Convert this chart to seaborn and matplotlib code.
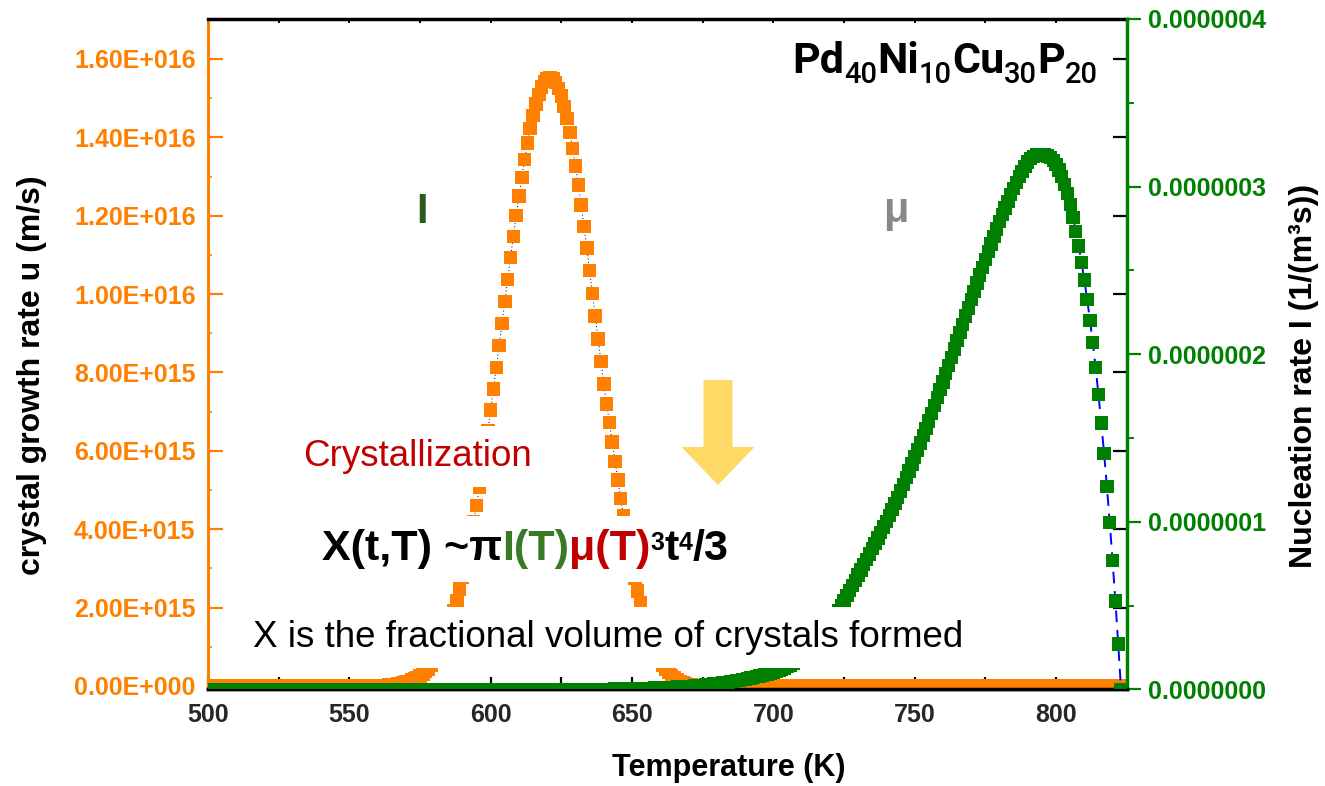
import numpy as np
import pandas as pd
import matplotlib
matplotlib.use("Agg")
import matplotlib.pyplot as plt
import seaborn as sns
from matplotlib.transforms import IdentityTransform
from matplotlib.patches import Rectangle, FancyArrow
from matplotlib.ticker import FixedLocator, FuncFormatter

# ---------------- data (1 K steps) ----------------
T_START = 500
T_END = 823

# crystal growth rate u, units of 1e15 m/s
growth_flat_low = [0.0] * 60                      # 500 - 559 K : flat at zero
growth_peak_e15 = [                                # 560 - 674 K
    0.000, 0.005, 0.010, 0.015, 0.020, 0.030, 0.040, 0.050, 0.065, 0.080,
    0.100, 0.120, 0.150, 0.180, 0.220, 0.260, 0.310, 0.370, 0.440, 0.530,
    0.630, 0.750, 0.890, 1.050, 1.230, 1.430, 1.660, 1.910, 2.180, 2.470,
    2.780, 3.090, 3.430, 3.800, 4.190, 4.610, 5.060, 5.520, 6.010, 6.520,
    7.040, 7.580, 8.130, 8.690, 9.250, 9.810, 10.37, 10.93, 11.47, 12.00,
    12.50, 12.98, 13.43, 13.85, 14.22, 14.56, 14.85, 15.09, 15.28, 15.42,
    15.50, 15.53, 15.49, 15.40, 15.25, 15.05, 14.79, 14.48, 14.12, 13.72,
    13.27, 12.79, 12.27, 11.73, 11.17, 10.60, 10.02, 9.44, 8.86, 8.28,
    7.71, 7.20, 6.72, 6.22, 5.73, 5.25, 4.79, 4.34, 3.91, 3.50,
    3.12, 2.76, 2.43, 2.12, 1.84, 1.58, 1.35, 1.14, 0.95, 0.79,
    0.65, 0.53, 0.43, 0.34, 0.27, 0.21, 0.16, 0.12, 0.09, 0.06,
    0.04, 0.025, 0.015, 0.008, 0.000,
]
growth_flat_high = [0.0] * 149                     # 675 - 823 K : flat at zero

# nucleation rate I, units of 1e-7 1/(m^3 s)
nucl_flat_low = [0.0] * 141                        # 500 - 640 K : flat at zero
nucl_curve_e7 = [                                  # 641 - 823 K
    0.001, 0.001, 0.001, 0.002, 0.002, 0.002, 0.003, 0.003, 0.003, 0.004,
    0.004, 0.005, 0.005, 0.006, 0.006, 0.007, 0.007, 0.008, 0.008, 0.009,
    0.010, 0.011, 0.011, 0.012, 0.013, 0.014, 0.015, 0.016, 0.017, 0.018,
    0.019, 0.021, 0.022, 0.024, 0.025, 0.027, 0.028, 0.030, 0.032, 0.034,
    0.036, 0.038, 0.041, 0.043, 0.046, 0.049, 0.052, 0.055, 0.058, 0.061,
    0.065, 0.068, 0.072, 0.075, 0.079, 0.083, 0.087, 0.091, 0.096, 0.100,
    0.106, 0.112, 0.119, 0.127, 0.135, 0.145, 0.155, 0.166, 0.178, 0.190,
    0.205, 0.220, 0.236, 0.253, 0.270, 0.292, 0.315, 0.340, 0.365, 0.390,
    0.417, 0.444, 0.472, 0.500, 0.530, 0.560, 0.590, 0.620, 0.651, 0.682,
    0.713, 0.744, 0.776, 0.808, 0.840, 0.871, 0.903, 0.936, 0.969, 1.003,
    1.038, 1.073, 1.109, 1.146, 1.184, 1.223, 1.263, 1.303, 1.344, 1.386,
    1.428, 1.471, 1.514, 1.558, 1.602, 1.648, 1.694, 1.741, 1.788, 1.835,
    1.884, 1.933, 1.982, 2.031, 2.080, 2.129, 2.178, 2.227, 2.276, 2.325,
    2.375, 2.425, 2.472, 2.519, 2.566, 2.612, 2.658, 2.703, 2.747, 2.790,
    2.832, 2.873, 2.913, 2.952, 2.990, 3.026, 3.060, 3.092, 3.121, 3.146,
    3.166, 3.180, 3.189, 3.192, 3.192, 3.190, 3.183, 3.172, 3.155, 3.131,
    3.100, 3.061, 3.014, 2.958, 2.892, 2.817, 2.731, 2.646, 2.548, 2.443,
    2.328, 2.202, 2.071, 1.922, 1.761, 1.590, 1.409, 1.209, 0.995, 0.768,
    0.527, 0.271, 0.000,
]

temp_major_ticks = [500, 550, 600, 650, 700, 750, 800]
temp_minor_ticks = [525, 575, 625, 675, 725, 775]
temp_top_ticks = [525, 550, 575, 600, 625, 650, 675, 700, 725, 750, 775, 800]
growth_ticks = [0.0, 2e15, 4e15, 6e15, 8e15, 1e16, 1.2e16, 1.4e16, 1.6e16]
growth_minor_ticks = [1e15, 3e15, 5e15, 7e15, 9e15, 1.1e16, 1.3e16, 1.5e16]
nucl_ticks = [0.0, 1e-7, 2e-7, 3e-7, 4e-7]
nucl_minor_ticks = [0.5e-7, 1.5e-7, 2.5e-7, 3.5e-7]

temperature = np.arange(T_START, T_END + 1)
growth = np.array(growth_flat_low + growth_peak_e15 + growth_flat_high) * 1e15
nucleation = np.array(nucl_flat_low + nucl_curve_e7) * 1e-7
df = pd.DataFrame({"T": temperature, "u": growth, "I": nucleation})

# ---------------- style ----------------
W, H = 1325, 786
ORANGE = "#FF8000"
GREEN = "#008000"
sns.set_style("white")
plt.rcParams["font.family"] = ["Liberation Sans", "DejaVu Sans"]
plt.rcParams["font.weight"] = "bold"

fig = plt.figure(figsize=(W / 100, H / 100), dpi=100)
ax = fig.add_axes([208 / W, 1 - 689.4 / H, (1126.7 - 208) / W, (689.4 - 19) / H])
ax2 = ax.twinx()

# ---------------- series ----------------
sns.lineplot(data=df, x="T", y="u", ax=ax, color="black", linewidth=0.7,
             linestyle=(0, (1, 2.5)), errorbar=None, zorder=2)
sns.scatterplot(data=df, x="T", y="u", ax=ax, marker="s", s=95, color=ORANGE,
                linewidth=0, edgecolor="none", zorder=3)
sns.lineplot(data=df, x="T", y="I", ax=ax2, color="blue", linewidth=1.4,
             linestyle=(0, (6, 4)), errorbar=None, zorder=2)
sns.scatterplot(data=df, x="T", y="I", ax=ax2, marker="s", s=92, color=GREEN,
                linewidth=0, edgecolor="none", zorder=3)

# ---------------- axes ----------------
ax.set_xlim(500, 825)
ax.set_ylim(-8.7e13, 1.702e16)
ax2.set_ylim(0, 4e-7)
ax.set_xlabel("")
ax.set_ylabel("")
ax2.set_ylabel("")


def sci3(v, pos):
    if v == 0:
        return "0.00E+000"
    e = int(np.floor(np.log10(abs(v)) + 1e-9))
    return f"{v / 10 ** e:.2f}E+{e:03d}"


ax.xaxis.set_major_locator(FixedLocator(temp_major_ticks))
ax.xaxis.set_minor_locator(FixedLocator(temp_minor_ticks))
ax.yaxis.set_major_locator(FixedLocator(growth_ticks))
ax.yaxis.set_minor_locator(FixedLocator(growth_minor_ticks))
ax.yaxis.set_major_formatter(FuncFormatter(sci3))
ax2.yaxis.set_major_locator(FixedLocator(nucl_ticks))
ax2.yaxis.set_minor_locator(FixedLocator(nucl_minor_ticks))
ax2.yaxis.set_major_formatter(FuncFormatter(lambda v, p: f"{v:.7f}"))

ax.tick_params(axis="x", which="both", direction="in", length=8.5, width=1.6,
               color="black", labelsize=18, pad=10, top=False, bottom=True)
ax.tick_params(axis="y", which="major", direction="in", length=11, width=1.6,
               color=ORANGE, labelcolor=ORANGE, labelsize=18, pad=9,
               left=True, right=False)
ax.tick_params(axis="y", which="minor", direction="in", length=3, width=1.2,
               color=ORANGE, left=True, right=False)
ax2.tick_params(axis="y", which="major", direction="out", length=10, width=1.6,
                color=GREEN, labelcolor=GREEN, labelsize=18, pad=5)
ax2.tick_params(axis="y", which="minor", direction="out", length=5, width=1.4,
                color=GREEN)

for s in ["left", "right", "top", "bottom"]:
    ax.spines[s].set_visible(True)
ax.spines["left"].set_color(ORANGE)
ax.spines["left"].set_linewidth(2.2)
ax.spines["bottom"].set_color("black")
ax.spines["bottom"].set_linewidth(2.5)
ax.spines["top"].set_color("black")
ax.spines["top"].set_linewidth(2.5)
ax.spines["right"].set_visible(False)
ax2.spines["left"].set_visible(False)
ax2.spines["top"].set_visible(False)
ax2.spines["bottom"].set_visible(True)
ax2.spines["bottom"].set_color("black")
ax2.spines["bottom"].set_linewidth(2.5)
ax2.spines["right"].set_visible(True)
ax2.spines["right"].set_color(GREEN)
ax2.spines["right"].set_linewidth(2.5)

# mirrored black ticks (top and inside right)
sec_top = ax.secondary_xaxis("top")
sec_top.set_xticks(temp_top_ticks)
sec_top.tick_params(direction="in", length=3, width=1.4, color="black", labeltop=False)
sec_top.spines["top"].set_visible(False)
sec_right = ax.secondary_yaxis("right")
sec_right.set_yticks(growth_ticks)
sec_right.tick_params(direction="in", length=10, width=1.6, color="black", labelright=False)
sec_right.spines["right"].set_visible(False)

# ---------------- labels ----------------
fig.text(729 / W, 1 - 768 / H, "Temperature (K)", ha="center", va="center",
         fontsize=22, fontweight="bold", color="black")
fig.text(32 / W, 1 - 375 / H, "crystal growth rate u (m/s)", rotation=90,
         ha="center", va="center", fontsize=23, fontweight="bold", color="black")
fig.text(1304 / W, 1 - 376 / H, "Nucleation rate I (1/(m³s))", rotation=90,
         ha="center", va="center", fontsize=23, fontweight="bold", color="black")

# ---------------- annotations ----------------
fig.text(422 / W, 1 - 223 / H, "I", ha="center", va="baseline", fontsize=30,
         fontweight="bold", color="#2B5B1F", zorder=21)
fig.text(896 / W, 1 - 222 / H, "μ", ha="center", va="baseline", fontsize=30,
         fontweight="bold", color="#888888", zorder=21)

fig.text(418 / W, 1 - 466 / H, "Crystallization", ha="center", va="baseline",
         fontsize=26.5, fontweight="normal", color="#C00000", zorder=21,
         bbox=dict(boxstyle="square,pad=0.35", fc="white", ec="none"))
fig.text(253 / W, 1 - 647 / H, "X is the fractional volume of crystals formed",
         ha="left", va="baseline", fontsize=26.5, fontweight="normal",
         color="black", zorder=21,
         bbox=dict(boxstyle="square,pad=0.35", fc="white", ec="none"))

arrow = FancyArrow(718, H - 380, 0, -105, width=29, head_width=73, head_length=38,
                   length_includes_head=True, transform=IdentityTransform(),
                   fc="#FFD966", ec="none", zorder=6)
fig.add_artist(arrow)

renderer = fig.canvas.get_renderer()


def draw_chain(segments, x, y, align="left", box_pad=None):
    arts = []
    for text, color, size, rise, weight, family in segments:
        t = fig.text(0, 0, text, color=color, fontsize=size, fontweight=weight,
                     family=family, transform=IdentityTransform(),
                     ha="left", va="baseline", zorder=22)
        arts.append((t, rise))
    widths = [t.get_window_extent(renderer).width for t, _ in arts]
    cx = x - sum(widths) if align == "right" else x
    for (t, rise), w in zip(arts, widths):
        t.set_position((cx, H - y + rise))
        cx += w
    if box_pad is not None:
        bbs = [t.get_window_extent(renderer) for t, _ in arts]
        x0 = min(b.x0 for b in bbs) - box_pad
        x1 = max(b.x1 for b in bbs) + box_pad
        y0 = min(b.y0 for b in bbs) - box_pad
        y1 = max(b.y1 for b in bbs) + box_pad
        fig.add_artist(Rectangle((x0, y0), x1 - x0, y1 - y0, transform=IdentityTransform(),
                                 fc="white", ec="none", zorder=20))


LS = ["Liberation Sans", "DejaVu Sans"]
formula = [
    ("X(t,T) ~π", "black", 31, 0, "bold", LS),
    ("I(T)", "#3A7A26", 31, 0, "bold", LS),
    ("μ(T)", "#C00000", 31, 0, "bold", LS),
    ("3", "black", 18, 10, "bold", LS),
    ("t", "black", 31, 0, "bold", LS),
    ("4", "black", 18, 10, "bold", LS),
    ("/3", "black", 31, 0, "bold", LS),
]
draw_chain(formula, 322, 560, align="left", box_pad=13)

RB = ["Roboto", "DejaVu Sans"]
title = [
    ("Pd", "black", 31, 0, "bold", RB),
    ("40", "black", 21, -10, "medium", RB),
    ("Ni", "black", 31, 0, "bold", RB),
    ("10", "black", 21, -10, "medium", RB),
    ("Cu", "black", 31, 0, "bold", RB),
    ("30", "black", 21, -10, "medium", RB),
    ("P", "black", 31, 0, "bold", RB),
    ("20", "black", 21, -10, "medium", RB),
]
draw_chain(title, 1098, 73, align="right")

fig.savefig("out.png", dpi=100)
